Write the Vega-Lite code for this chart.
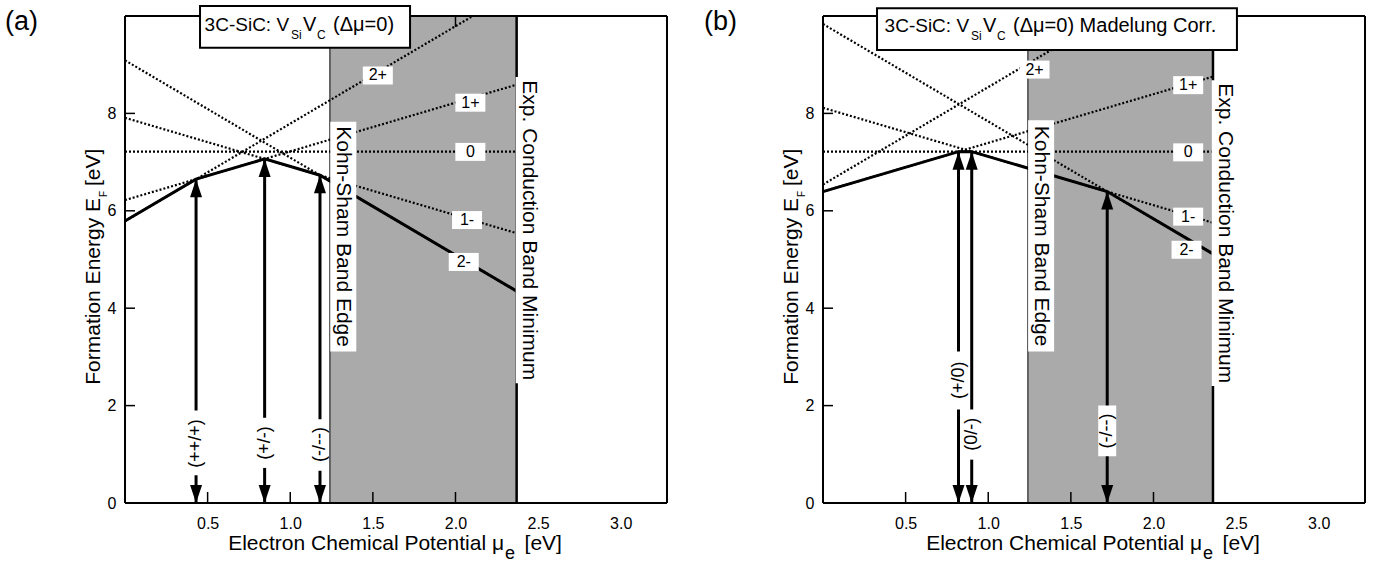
{
  "$schema": "https://vega.github.io/schema/vega-lite/v6.json",
  "background": "white",
  "padding": {"left": 4, "top": 5, "right": 5, "bottom": 0},
  "config": {"view": {"stroke": null}},
  "spacing": 156,
  "bounds": "flush",
  "datasets": {
    "shade": [{"p": "a", "x": 1.24, "x2": 2.37}, {"p": "b", "x": 1.24, "x2": 2.36}],
    "xticks": [
      {"p": "a", "x": 0.5}, {"p": "a", "x": 1.0}, {"p": "a", "x": 1.5}, {"p": "a", "x": 2.0},
      {"p": "b", "x": 0.5}, {"p": "b", "x": 1.0}, {"p": "b", "x": 1.5}, {"p": "b", "x": 2.0}
    ],
    "topticks": [{"p": "a", "x": 2.0}],
    "yticks": [
      {"p": "a", "y": 2}, {"p": "a", "y": 4}, {"p": "a", "y": 6}, {"p": "a", "y": 8},
      {"p": "b", "y": 2}, {"p": "b", "y": 4}, {"p": "b", "y": 6}, {"p": "b", "y": 8}
    ],
    "lines": [
      {"p": "a", "s": "2+", "x": 0, "y": 5.79}, {"p": "a", "s": "2+", "x": 2.37, "y": 10.53},
      {"p": "a", "s": "1+", "x": 0, "y": 6.22}, {"p": "a", "s": "1+", "x": 2.37, "y": 8.59},
      {"p": "a", "s": "0", "x": 0, "y": 7.215}, {"p": "a", "s": "0", "x": 2.37, "y": 7.215},
      {"p": "a", "s": "1-", "x": 0, "y": 7.91}, {"p": "a", "s": "1-", "x": 2.37, "y": 5.54},
      {"p": "a", "s": "2-", "x": 0, "y": 9.09}, {"p": "a", "s": "2-", "x": 2.37, "y": 4.35},
      {"p": "b", "s": "2+", "x": 0, "y": 6.54}, {"p": "b", "s": "2+", "x": 2.36, "y": 11.26},
      {"p": "b", "s": "1+", "x": 0, "y": 6.395}, {"p": "b", "s": "1+", "x": 2.36, "y": 8.755},
      {"p": "b", "s": "0", "x": 0, "y": 7.215}, {"p": "b", "s": "0", "x": 2.36, "y": 7.215},
      {"p": "b", "s": "1-", "x": 0, "y": 8.115}, {"p": "b", "s": "1-", "x": 2.36, "y": 5.755},
      {"p": "b", "s": "2-", "x": 0, "y": 9.835}, {"p": "b", "s": "2-", "x": 2.36, "y": 5.115}
    ],
    "env": [
      {"p": "a", "x": 0, "y": 5.79}, {"p": "a", "x": 0.43, "y": 6.65}, {"p": "a", "x": 0.845, "y": 7.065}, {"p": "a", "x": 1.18, "y": 6.73}, {"p": "a", "x": 2.37, "y": 4.35},
      {"p": "b", "x": 0, "y": 6.395}, {"p": "b", "x": 0.82, "y": 7.215}, {"p": "b", "x": 0.9, "y": 7.215}, {"p": "b", "x": 1.72, "y": 6.395}, {"p": "b", "x": 2.36, "y": 5.115}
    ],
    "arrows": [
      {"p": "a", "x": 0.43, "y": 6.65, "t": "(++/+)", "ly": 1.22, "b1": 0.57, "b2": 1.9},
      {"p": "a", "x": 0.845, "y": 7.065, "t": "(+/-)", "ly": 1.23, "b1": 0.72, "b2": 1.75},
      {"p": "a", "x": 1.18, "y": 6.73, "t": "(-/--)", "ly": 1.2, "b1": 0.66, "b2": 1.72},
      {"p": "b", "x": 0.82, "y": 7.215, "t": "(+/0)", "ly": 2.52, "b1": 1.92, "b2": 3.11},
      {"p": "b", "x": 0.9, "y": 7.215, "t": "(0/-)", "ly": 1.41, "b1": 0.89, "b2": 1.92},
      {"p": "b", "x": 1.72, "y": 6.395, "t": "(-/--)", "ly": 1.48, "b1": 0.96, "b2": 2.0}
    ],
    "clabels": [
      {"p": "a", "t": "2+", "x": 1.53, "y": 8.78}, {"p": "a", "t": "1+", "x": 2.09, "y": 8.22}, {"p": "a", "t": "0", "x": 2.09, "y": 7.21}, {"p": "a", "t": "1-", "x": 2.07, "y": 5.81}, {"p": "a", "t": "2-", "x": 2.05, "y": 4.95},
      {"p": "b", "t": "2+", "x": 1.28, "y": 8.9}, {"p": "b", "t": "1+", "x": 2.21, "y": 8.58}, {"p": "b", "t": "0", "x": 2.21, "y": 7.2}, {"p": "b", "t": "1-", "x": 2.21, "y": 5.88}, {"p": "b", "t": "2-", "x": 2.2, "y": 5.2}
    ],
    "vlabels": [
      {"p": "a", "t": "Kohn-Sham Band Edge", "x": 1.321, "y": 5.47, "y1": 3.11, "y2": 7.83},
      {"p": "a", "t": "Exp. Conduction Band Minimum", "x": 2.443, "y": 5.6, "y1": 2.46, "y2": 8.75},
      {"p": "b", "t": "Kohn-Sham Band Edge", "x": 1.32, "y": 5.48, "y1": 3.11, "y2": 7.86},
      {"p": "b", "t": "Exp. Conduction Band Minimum", "x": 2.43, "y": 5.54, "y1": 2.4, "y2": 8.68}
    ],
    "tbox": [
      {"p": "a", "x": 0.454, "x2": 1.725, "y": 9.35, "y2": 10.205},
      {"p": "b", "x": 0.327, "x2": 2.505, "y": 9.3, "y2": 10.16}
    ],
    "texts": [
      {"p": "a", "r": "letter", "t": "(a)", "x": -0.7264, "y": 9.72},
      {"p": "a", "r": "tR", "t": "3C-SiC: V", "x": 0.993, "y": 9.69},
      {"p": "a", "r": "tS", "t": "Si", "x": 1.005, "y": 9.52},
      {"p": "a", "r": "tL", "t": "V", "x": 1.077, "y": 9.69},
      {"p": "a", "r": "tS", "t": "C", "x": 1.162, "y": 9.52},
      {"p": "a", "r": "tL", "t": "(Δμ=0)", "x": 1.259, "y": 9.69},
      {"p": "a", "r": "xR", "t": "Electron Chemical Potential μ", "x": 2.294, "y": -0.96},
      {"p": "a", "r": "xS", "t": "e", "x": 2.3, "y": -1.15},
      {"p": "a", "r": "xL", "t": "[eV]", "x": 2.418, "y": -0.96},
      {"p": "a", "r": "yR", "t": "Formation Energy E", "x": -0.151, "y": 6.263},
      {"p": "a", "r": "yS", "t": "F", "x": -0.106, "y": 6.283},
      {"p": "a", "r": "yL", "t": "[eV]", "x": -0.151, "y": 6.51},
      {"p": "b", "r": "letter", "t": "(b)", "x": -0.72, "y": 9.72},
      {"p": "b", "r": "tR", "t": "3C-SiC: V", "x": 0.884, "y": 9.67},
      {"p": "b", "r": "tS", "t": "Si", "x": 0.896, "y": 9.5},
      {"p": "b", "r": "tL", "t": "V", "x": 0.968, "y": 9.67},
      {"p": "b", "r": "tS", "t": "C", "x": 1.053, "y": 9.5},
      {"p": "b", "r": "tL", "t": "(Δμ=0) Madelung Corr.", "x": 1.15, "y": 9.67},
      {"p": "b", "r": "xR", "t": "Electron Chemical Potential μ", "x": 2.294, "y": -0.96},
      {"p": "b", "r": "xS", "t": "e", "x": 2.3, "y": -1.15},
      {"p": "b", "r": "xL", "t": "[eV]", "x": 2.418, "y": -0.96},
      {"p": "b", "r": "yR", "t": "Formation Energy E", "x": -0.151, "y": 6.263},
      {"p": "b", "r": "yS", "t": "F", "x": -0.106, "y": 6.283},
      {"p": "b", "r": "yL", "t": "[eV]", "x": -0.151, "y": 6.51}
    ]
  },
  "hconcat": [
    {
      "width": 542, "height": 487,
      "layer": [
        {"data": {"name": "env"}, "transform": [{"filter": "datum.p=='a'"}], "mark": {"type": "line", "opacity": 0, "clip": true},
          "encoding": {
            "x": {"field": "x", "type": "quantitative", "scale": {"domain": [0, 3.28], "nice": false, "zero": false},
              "axis": {"values": [0.5, 1, 1.5, 2, 2.5, 3], "format": ".1f", "title": null, "grid": false, "domain": false, "ticks": false, "tickSize": 0, "labelPadding": 12, "labelFontSize": 16, "labelColor": "black", "labelFont": "Liberation Sans"}},
            "y": {"field": "y", "type": "quantitative", "scale": {"domain": [0, 10], "nice": false, "zero": false},
              "axis": {"values": [0, 2, 4, 6, 8], "title": null, "grid": false, "domain": false, "ticks": false, "tickSize": 0, "labelPadding": 9, "labelFontSize": 16, "labelColor": "black", "labelFont": "Liberation Sans", "labelFlush": false}}}},
        {"data": {"name": "shade"}, "transform": [{"filter": "datum.p=='a'"}], "mark": {"type": "rect", "color": "#aaaaaa"}, "encoding": {"x": {"field": "x", "type": "quantitative"}, "x2": {"field": "x2"}}},
        {"data": {"name": "shade"}, "transform": [{"filter": "datum.p=='a'"}], "mark": {"type": "rule", "color": "black", "strokeWidth": 1}, "encoding": {"x": {"field": "x", "type": "quantitative"}}},
        {"data": {"name": "shade"}, "transform": [{"filter": "datum.p=='a'"}], "mark": {"type": "rule", "color": "black", "strokeWidth": 2.5}, "encoding": {"x": {"field": "x2", "type": "quantitative"}}},
        {"data": {"name": "lines"}, "transform": [{"filter": "datum.p=='a'"}], "mark": {"type": "line", "color": "black", "strokeWidth": 2.2, "strokeDash": [2, 2], "clip": true}, "encoding": {"x": {"field": "x", "type": "quantitative"}, "y": {"field": "y", "type": "quantitative"}, "detail": {"field": "s", "type": "nominal"}}},
        {"data": {"name": "env"}, "transform": [{"filter": "datum.p=='a'"}], "mark": {"type": "line", "color": "black", "strokeWidth": 3}, "encoding": {"x": {"field": "x", "type": "quantitative"}, "y": {"field": "y", "type": "quantitative"}}},
        {"data": {"name": "arrows"}, "transform": [{"filter": "datum.p=='a'"}], "mark": {"type": "rule", "color": "black", "strokeWidth": 3}, "encoding": {"x": {"field": "x", "type": "quantitative"}, "y": {"field": "y", "type": "quantitative"}, "y2": {"datum": 0}}},
        {"data": {"name": "arrows"}, "transform": [{"filter": "datum.p=='a'"}], "mark": {"type": "point", "shape": "M0,0L-1,3L1,3Z", "size": 144, "filled": true, "color": "black", "opacity": 1, "strokeWidth": 0}, "encoding": {"x": {"field": "x", "type": "quantitative"}, "y": {"field": "y", "type": "quantitative"}}},
        {"data": {"name": "arrows"}, "transform": [{"filter": "datum.p=='a'"}], "mark": {"type": "point", "shape": "M0,0L-1,-3L1,-3Z", "size": 144, "filled": true, "color": "black", "opacity": 1, "strokeWidth": 0}, "encoding": {"x": {"field": "x", "type": "quantitative"}, "y": {"datum": 0}}},
        {"data": {"name": "arrows"}, "transform": [{"filter": "datum.p=='a'"}], "mark": {"type": "rect", "color": "white", "width": 18}, "encoding": {"x": {"field": "x", "type": "quantitative"}, "y": {"field": "b1", "type": "quantitative"}, "y2": {"field": "b2"}}},
        {"data": {"name": "arrows"}, "transform": [{"filter": "datum.p=='a'"}], "mark": {"type": "text", "angle": 270, "fontSize": 18, "font": "Liberation Sans", "color": "black", "align": "center", "baseline": "middle"}, "encoding": {"x": {"field": "x", "type": "quantitative"}, "y": {"field": "ly", "type": "quantitative"}, "text": {"field": "t"}}},
        {"data": {"name": "clabels"}, "transform": [{"filter": "datum.p=='a'"}], "mark": {"type": "rect", "color": "white", "width": 30, "height": 18}, "encoding": {"x": {"field": "x", "type": "quantitative"}, "y": {"field": "y", "type": "quantitative"}}},
        {"data": {"name": "clabels"}, "transform": [{"filter": "datum.p=='a'"}], "mark": {"type": "text", "fontSize": 16, "font": "Liberation Sans", "color": "black", "align": "center", "baseline": "middle"}, "encoding": {"x": {"field": "x", "type": "quantitative"}, "y": {"field": "y", "type": "quantitative"}, "text": {"field": "t"}}},
        {"data": {"name": "vlabels"}, "transform": [{"filter": "datum.p=='a'"}], "mark": {"type": "rect", "color": "white", "width": 26}, "encoding": {"x": {"field": "x", "type": "quantitative"}, "y": {"field": "y1", "type": "quantitative"}, "y2": {"field": "y2"}}},
        {"data": {"name": "vlabels"}, "transform": [{"filter": "datum.p=='a'"}], "mark": {"type": "text", "angle": 90, "fontSize": 21, "font": "Liberation Sans", "color": "black", "align": "center", "baseline": "middle"}, "encoding": {"x": {"field": "x", "type": "quantitative"}, "y": {"field": "y", "type": "quantitative"}, "text": {"field": "t"}}},
        {"data": {"name": "xticks"}, "transform": [{"filter": "datum.p=='a'"}], "mark": {"type": "point", "shape": "M0,0L0,-1", "size": 484, "filled": false, "color": "black", "opacity": 1, "strokeWidth": 1.5}, "encoding": {"x": {"field": "x", "type": "quantitative"}, "y": {"datum": 0}}},
        {"data": {"name": "topticks"}, "transform": [{"filter": "datum.p=='a'"}], "mark": {"type": "point", "shape": "M0,0L0,1", "size": 484, "filled": false, "color": "black", "opacity": 1, "strokeWidth": 1.5}, "encoding": {"x": {"field": "x", "type": "quantitative"}, "y": {"datum": 10}}},
        {"data": {"name": "yticks"}, "transform": [{"filter": "datum.p=='a'"}], "mark": {"type": "point", "shape": "M0,0L1,0", "size": 400, "filled": false, "color": "black", "opacity": 1, "strokeWidth": 1.5}, "encoding": {"x": {"datum": 0}, "y": {"field": "y", "type": "quantitative"}}},
        {"data": {"values": [{}]}, "mark": {"type": "rule", "color": "black", "strokeWidth": 2}, "encoding": {"y": {"datum": 0}}},
        {"data": {"values": [{}]}, "mark": {"type": "rule", "color": "black", "strokeWidth": 2}, "encoding": {"x": {"datum": 0}}},
        {"data": {"values": [{}]}, "mark": {"type": "rule", "color": "black", "strokeWidth": 2}, "encoding": {"y": {"datum": 10}}},
        {"data": {"values": [{}]}, "mark": {"type": "rule", "color": "black", "strokeWidth": 2}, "encoding": {"x": {"datum": 3.28}}},
        {"data": {"name": "tbox"}, "transform": [{"filter": "datum.p=='a'"}], "mark": {"type": "rect", "fill": "white", "stroke": "black", "strokeWidth": 2}, "encoding": {"x": {"field": "x", "type": "quantitative"}, "x2": {"field": "x2"}, "y": {"field": "y", "type": "quantitative"}, "y2": {"field": "y2"}}},
        {"data": {"name": "texts"}, "transform": [{"filter": "datum.p=='a' && datum.r=='letter'"}], "mark": {"type": "text", "align": "left", "baseline": "alphabetic", "fontSize": 27, "font": "Liberation Sans", "color": "black"}, "encoding": {"x": {"field": "x", "type": "quantitative"}, "y": {"field": "y", "type": "quantitative"}, "text": {"field": "t"}}},
        {"data": {"name": "texts"}, "transform": [{"filter": "datum.p=='a' && datum.r=='tR'"}], "mark": {"type": "text", "align": "right", "baseline": "alphabetic", "fontSize": 19, "font": "Liberation Sans", "color": "black"}, "encoding": {"x": {"field": "x", "type": "quantitative"}, "y": {"field": "y", "type": "quantitative"}, "text": {"field": "t"}}},
        {"data": {"name": "texts"}, "transform": [{"filter": "datum.p=='a' && datum.r=='tL'"}], "mark": {"type": "text", "align": "left", "baseline": "alphabetic", "fontSize": 20, "font": "Liberation Sans", "color": "black"}, "encoding": {"x": {"field": "x", "type": "quantitative"}, "y": {"field": "y", "type": "quantitative"}, "text": {"field": "t"}}},
        {"data": {"name": "texts"}, "transform": [{"filter": "datum.p=='a' && datum.r=='tS'"}], "mark": {"type": "text", "align": "left", "baseline": "alphabetic", "fontSize": 12, "font": "Liberation Sans", "color": "black"}, "encoding": {"x": {"field": "x", "type": "quantitative"}, "y": {"field": "y", "type": "quantitative"}, "text": {"field": "t"}}},
        {"data": {"name": "texts"}, "transform": [{"filter": "datum.p=='a' && datum.r=='xR'"}], "mark": {"type": "text", "align": "right", "baseline": "alphabetic", "fontSize": 21, "font": "Liberation Sans", "color": "black"}, "encoding": {"x": {"field": "x", "type": "quantitative"}, "y": {"field": "y", "type": "quantitative"}, "text": {"field": "t"}}},
        {"data": {"name": "texts"}, "transform": [{"filter": "datum.p=='a' && datum.r=='xL'"}], "mark": {"type": "text", "align": "left", "baseline": "alphabetic", "fontSize": 21, "font": "Liberation Sans", "color": "black"}, "encoding": {"x": {"field": "x", "type": "quantitative"}, "y": {"field": "y", "type": "quantitative"}, "text": {"field": "t"}}},
        {"data": {"name": "texts"}, "transform": [{"filter": "datum.p=='a' && datum.r=='xS'"}], "mark": {"type": "text", "align": "left", "baseline": "alphabetic", "fontSize": 18, "font": "Liberation Sans", "color": "black"}, "encoding": {"x": {"field": "x", "type": "quantitative"}, "y": {"field": "y", "type": "quantitative"}, "text": {"field": "t"}}},
        {"data": {"name": "texts"}, "transform": [{"filter": "datum.p=='a' && datum.r=='yR'"}], "mark": {"type": "text", "align": "right", "baseline": "alphabetic", "angle": 270, "fontSize": 21, "font": "Liberation Sans", "color": "black"}, "encoding": {"x": {"field": "x", "type": "quantitative"}, "y": {"field": "y", "type": "quantitative"}, "text": {"field": "t"}}},
        {"data": {"name": "texts"}, "transform": [{"filter": "datum.p=='a' && datum.r=='yL'"}], "mark": {"type": "text", "align": "left", "baseline": "alphabetic", "angle": 270, "fontSize": 21, "font": "Liberation Sans", "color": "black"}, "encoding": {"x": {"field": "x", "type": "quantitative"}, "y": {"field": "y", "type": "quantitative"}, "text": {"field": "t"}}},
        {"data": {"name": "texts"}, "transform": [{"filter": "datum.p=='a' && datum.r=='yS'"}], "mark": {"type": "text", "align": "left", "baseline": "alphabetic", "angle": 270, "fontSize": 10, "font": "Liberation Sans", "color": "black"}, "encoding": {"x": {"field": "x", "type": "quantitative"}, "y": {"field": "y", "type": "quantitative"}, "text": {"field": "t"}}}
      ]
    },
    {
      "width": 542, "height": 487,
      "layer": [
        {"data": {"name": "env"}, "transform": [{"filter": "datum.p=='b'"}], "mark": {"type": "line", "opacity": 0, "clip": true},
          "encoding": {
            "x": {"field": "x", "type": "quantitative", "scale": {"domain": [0, 3.28], "nice": false, "zero": false},
              "axis": {"values": [0.5, 1, 1.5, 2, 2.5, 3], "format": ".1f", "title": null, "grid": false, "domain": false, "ticks": false, "tickSize": 0, "labelPadding": 12, "labelFontSize": 16, "labelColor": "black", "labelFont": "Liberation Sans"}},
            "y": {"field": "y", "type": "quantitative", "scale": {"domain": [0, 10], "nice": false, "zero": false},
              "axis": {"values": [0, 2, 4, 6, 8], "title": null, "grid": false, "domain": false, "ticks": false, "tickSize": 0, "labelPadding": 9, "labelFontSize": 16, "labelColor": "black", "labelFont": "Liberation Sans", "labelFlush": false}}}},
        {"data": {"name": "shade"}, "transform": [{"filter": "datum.p=='b'"}], "mark": {"type": "rect", "color": "#aaaaaa"}, "encoding": {"x": {"field": "x", "type": "quantitative"}, "x2": {"field": "x2"}}},
        {"data": {"name": "shade"}, "transform": [{"filter": "datum.p=='b'"}], "mark": {"type": "rule", "color": "black", "strokeWidth": 1}, "encoding": {"x": {"field": "x", "type": "quantitative"}}},
        {"data": {"name": "shade"}, "transform": [{"filter": "datum.p=='b'"}], "mark": {"type": "rule", "color": "black", "strokeWidth": 2.5}, "encoding": {"x": {"field": "x2", "type": "quantitative"}}},
        {"data": {"name": "lines"}, "transform": [{"filter": "datum.p=='b'"}], "mark": {"type": "line", "color": "black", "strokeWidth": 2.2, "strokeDash": [2, 2], "clip": true}, "encoding": {"x": {"field": "x", "type": "quantitative"}, "y": {"field": "y", "type": "quantitative"}, "detail": {"field": "s", "type": "nominal"}}},
        {"data": {"name": "env"}, "transform": [{"filter": "datum.p=='b'"}], "mark": {"type": "line", "color": "black", "strokeWidth": 3}, "encoding": {"x": {"field": "x", "type": "quantitative"}, "y": {"field": "y", "type": "quantitative"}}},
        {"data": {"name": "arrows"}, "transform": [{"filter": "datum.p=='b'"}], "mark": {"type": "rule", "color": "black", "strokeWidth": 3}, "encoding": {"x": {"field": "x", "type": "quantitative"}, "y": {"field": "y", "type": "quantitative"}, "y2": {"datum": 0}}},
        {"data": {"name": "arrows"}, "transform": [{"filter": "datum.p=='b'"}], "mark": {"type": "point", "shape": "M0,0L-1,3L1,3Z", "size": 144, "filled": true, "color": "black", "opacity": 1, "strokeWidth": 0}, "encoding": {"x": {"field": "x", "type": "quantitative"}, "y": {"field": "y", "type": "quantitative"}}},
        {"data": {"name": "arrows"}, "transform": [{"filter": "datum.p=='b'"}], "mark": {"type": "point", "shape": "M0,0L-1,-3L1,-3Z", "size": 144, "filled": true, "color": "black", "opacity": 1, "strokeWidth": 0}, "encoding": {"x": {"field": "x", "type": "quantitative"}, "y": {"datum": 0}}},
        {"data": {"name": "arrows"}, "transform": [{"filter": "datum.p=='b'"}], "mark": {"type": "rect", "color": "white", "width": 18}, "encoding": {"x": {"field": "x", "type": "quantitative"}, "y": {"field": "b1", "type": "quantitative"}, "y2": {"field": "b2"}}},
        {"data": {"name": "arrows"}, "transform": [{"filter": "datum.p=='b'"}], "mark": {"type": "text", "angle": 270, "fontSize": 18, "font": "Liberation Sans", "color": "black", "align": "center", "baseline": "middle"}, "encoding": {"x": {"field": "x", "type": "quantitative"}, "y": {"field": "ly", "type": "quantitative"}, "text": {"field": "t"}}},
        {"data": {"name": "clabels"}, "transform": [{"filter": "datum.p=='b'"}], "mark": {"type": "rect", "color": "white", "width": 30, "height": 18}, "encoding": {"x": {"field": "x", "type": "quantitative"}, "y": {"field": "y", "type": "quantitative"}}},
        {"data": {"name": "clabels"}, "transform": [{"filter": "datum.p=='b'"}], "mark": {"type": "text", "fontSize": 16, "font": "Liberation Sans", "color": "black", "align": "center", "baseline": "middle"}, "encoding": {"x": {"field": "x", "type": "quantitative"}, "y": {"field": "y", "type": "quantitative"}, "text": {"field": "t"}}},
        {"data": {"name": "vlabels"}, "transform": [{"filter": "datum.p=='b'"}], "mark": {"type": "rect", "color": "white", "width": 26}, "encoding": {"x": {"field": "x", "type": "quantitative"}, "y": {"field": "y1", "type": "quantitative"}, "y2": {"field": "y2"}}},
        {"data": {"name": "vlabels"}, "transform": [{"filter": "datum.p=='b'"}], "mark": {"type": "text", "angle": 90, "fontSize": 21, "font": "Liberation Sans", "color": "black", "align": "center", "baseline": "middle"}, "encoding": {"x": {"field": "x", "type": "quantitative"}, "y": {"field": "y", "type": "quantitative"}, "text": {"field": "t"}}},
        {"data": {"name": "xticks"}, "transform": [{"filter": "datum.p=='b'"}], "mark": {"type": "point", "shape": "M0,0L0,-1", "size": 484, "filled": false, "color": "black", "opacity": 1, "strokeWidth": 1.5}, "encoding": {"x": {"field": "x", "type": "quantitative"}, "y": {"datum": 0}}},
        {"data": {"name": "yticks"}, "transform": [{"filter": "datum.p=='b'"}], "mark": {"type": "point", "shape": "M0,0L1,0", "size": 400, "filled": false, "color": "black", "opacity": 1, "strokeWidth": 1.5}, "encoding": {"x": {"datum": 0}, "y": {"field": "y", "type": "quantitative"}}},
        {"data": {"values": [{}]}, "mark": {"type": "rule", "color": "black", "strokeWidth": 2}, "encoding": {"y": {"datum": 0}}},
        {"data": {"values": [{}]}, "mark": {"type": "rule", "color": "black", "strokeWidth": 2}, "encoding": {"x": {"datum": 0}}},
        {"data": {"values": [{}]}, "mark": {"type": "rule", "color": "black", "strokeWidth": 2}, "encoding": {"y": {"datum": 10}}},
        {"data": {"values": [{}]}, "mark": {"type": "rule", "color": "black", "strokeWidth": 2}, "encoding": {"x": {"datum": 3.28}}},
        {"data": {"name": "tbox"}, "transform": [{"filter": "datum.p=='b'"}], "mark": {"type": "rect", "fill": "white", "stroke": "black", "strokeWidth": 2}, "encoding": {"x": {"field": "x", "type": "quantitative"}, "x2": {"field": "x2"}, "y": {"field": "y", "type": "quantitative"}, "y2": {"field": "y2"}}},
        {"data": {"name": "texts"}, "transform": [{"filter": "datum.p=='b' && datum.r=='letter'"}], "mark": {"type": "text", "align": "left", "baseline": "alphabetic", "fontSize": 27, "font": "Liberation Sans", "color": "black"}, "encoding": {"x": {"field": "x", "type": "quantitative"}, "y": {"field": "y", "type": "quantitative"}, "text": {"field": "t"}}},
        {"data": {"name": "texts"}, "transform": [{"filter": "datum.p=='b' && datum.r=='tR'"}], "mark": {"type": "text", "align": "right", "baseline": "alphabetic", "fontSize": 19, "font": "Liberation Sans", "color": "black"}, "encoding": {"x": {"field": "x", "type": "quantitative"}, "y": {"field": "y", "type": "quantitative"}, "text": {"field": "t"}}},
        {"data": {"name": "texts"}, "transform": [{"filter": "datum.p=='b' && datum.r=='tL'"}], "mark": {"type": "text", "align": "left", "baseline": "alphabetic", "fontSize": 20, "font": "Liberation Sans", "color": "black"}, "encoding": {"x": {"field": "x", "type": "quantitative"}, "y": {"field": "y", "type": "quantitative"}, "text": {"field": "t"}}},
        {"data": {"name": "texts"}, "transform": [{"filter": "datum.p=='b' && datum.r=='tS'"}], "mark": {"type": "text", "align": "left", "baseline": "alphabetic", "fontSize": 12, "font": "Liberation Sans", "color": "black"}, "encoding": {"x": {"field": "x", "type": "quantitative"}, "y": {"field": "y", "type": "quantitative"}, "text": {"field": "t"}}},
        {"data": {"name": "texts"}, "transform": [{"filter": "datum.p=='b' && datum.r=='xR'"}], "mark": {"type": "text", "align": "right", "baseline": "alphabetic", "fontSize": 21, "font": "Liberation Sans", "color": "black"}, "encoding": {"x": {"field": "x", "type": "quantitative"}, "y": {"field": "y", "type": "quantitative"}, "text": {"field": "t"}}},
        {"data": {"name": "texts"}, "transform": [{"filter": "datum.p=='b' && datum.r=='xL'"}], "mark": {"type": "text", "align": "left", "baseline": "alphabetic", "fontSize": 21, "font": "Liberation Sans", "color": "black"}, "encoding": {"x": {"field": "x", "type": "quantitative"}, "y": {"field": "y", "type": "quantitative"}, "text": {"field": "t"}}},
        {"data": {"name": "texts"}, "transform": [{"filter": "datum.p=='b' && datum.r=='xS'"}], "mark": {"type": "text", "align": "left", "baseline": "alphabetic", "fontSize": 18, "font": "Liberation Sans", "color": "black"}, "encoding": {"x": {"field": "x", "type": "quantitative"}, "y": {"field": "y", "type": "quantitative"}, "text": {"field": "t"}}},
        {"data": {"name": "texts"}, "transform": [{"filter": "datum.p=='b' && datum.r=='yR'"}], "mark": {"type": "text", "align": "right", "baseline": "alphabetic", "angle": 270, "fontSize": 21, "font": "Liberation Sans", "color": "black"}, "encoding": {"x": {"field": "x", "type": "quantitative"}, "y": {"field": "y", "type": "quantitative"}, "text": {"field": "t"}}},
        {"data": {"name": "texts"}, "transform": [{"filter": "datum.p=='b' && datum.r=='yL'"}], "mark": {"type": "text", "align": "left", "baseline": "alphabetic", "angle": 270, "fontSize": 21, "font": "Liberation Sans", "color": "black"}, "encoding": {"x": {"field": "x", "type": "quantitative"}, "y": {"field": "y", "type": "quantitative"}, "text": {"field": "t"}}},
        {"data": {"name": "texts"}, "transform": [{"filter": "datum.p=='b' && datum.r=='yS'"}], "mark": {"type": "text", "align": "left", "baseline": "alphabetic", "angle": 270, "fontSize": 10, "font": "Liberation Sans", "color": "black"}, "encoding": {"x": {"field": "x", "type": "quantitative"}, "y": {"field": "y", "type": "quantitative"}, "text": {"field": "t"}}}
      ]
    }
  ]
}
